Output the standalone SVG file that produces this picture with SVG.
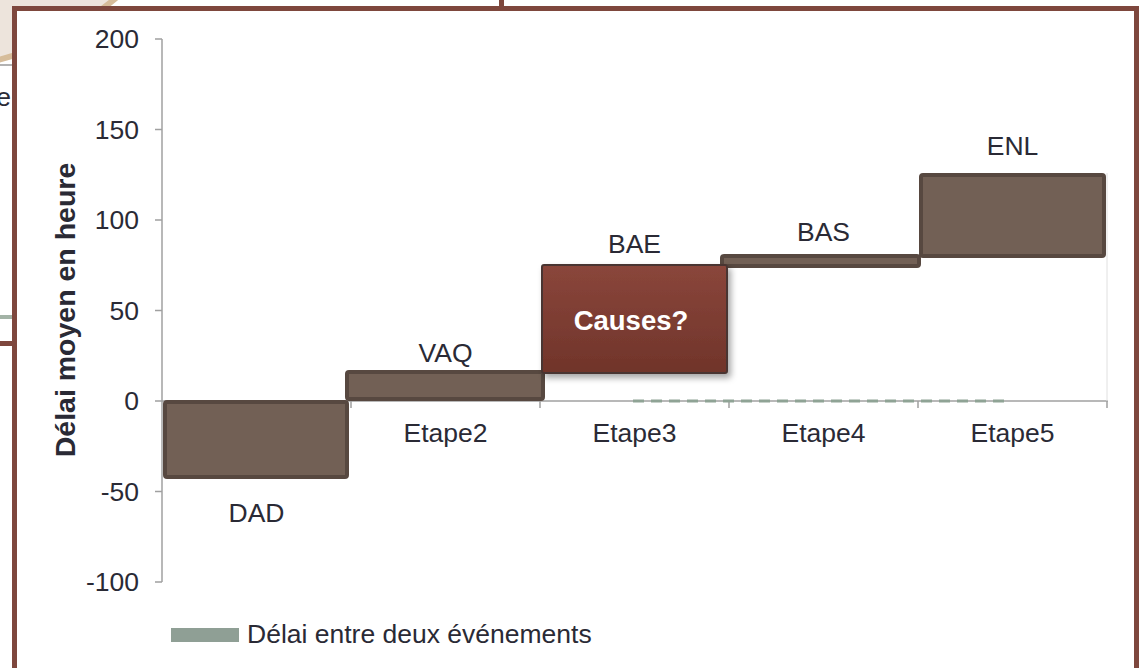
<svg xmlns="http://www.w3.org/2000/svg" width="1139" height="668" viewBox="0 0 1139 668">
<style>
text{font-family:"Liberation Sans",Arial,sans-serif;fill:#2a2a35;font-size:26.5px}
.tick{text-anchor:end}
.mid{text-anchor:middle}
.bar{fill:#726055;stroke:#574840;stroke-width:4}
.axis{stroke:#a0a0a0;stroke-width:1.5;fill:none}
</style>
<defs>
<linearGradient id="cg" x1="0" y1="0" x2="0" y2="1">
<stop offset="0" stop-color="#8a463b"/>
<stop offset="1" stop-color="#70342a"/>
</linearGradient>
<filter id="sh" x="-10%" y="-10%" width="130%" height="140%">
<feDropShadow dx="3" dy="4" stdDeviation="3" flood-color="#000" flood-opacity="0.35"/>
</filter>
</defs>
<rect width="1139" height="668" fill="#ffffff"/>
<g id="background">
<path d="M0,0 L116,0 Q60,45 0,60 Z" fill="#ede4dc"/>
<path d="M116,-2 Q60,45 -2,60" fill="none" stroke="#d6bc9a" stroke-width="6"/>
<line x1="0" y1="65" x2="14" y2="65" stroke="#999" stroke-width="1.5"/>
<text x="11" y="106" class="tick">e</text>
<line x1="0" y1="317" x2="14" y2="317" stroke="#a3b3a6" stroke-width="4"/>
<line x1="0" y1="343.5" x2="14" y2="343.5" stroke="#7e473d" stroke-width="5"/>
<line x1="501.5" y1="0" x2="501.5" y2="10" stroke="#7e473d" stroke-width="5"/>
</g>
<g id="frame">
<rect x="14.5" y="8.5" width="1122" height="700" fill="#ffffff" stroke="#7e473d" stroke-width="5"/>
</g>
<g id="axes">
<line class="axis" x1="162" y1="39" x2="162" y2="582"/>
<path class="axis" d="M155,39H162M155,129.5H162M155,220H162M155,310.5H162M155,401H162M155,491.5H162M155,582H162"/>
<line class="axis" x1="162" y1="401" x2="1108" y2="401"/>
<path class="axis" d="M351,401V408M540,401V408M729,401V408M918,401V408M1107,401V408"/>
<line x1="1107" y1="173" x2="1107" y2="401" stroke="#e0e0e0" stroke-width="1"/>
<text class="tick" x="139" y="48">200</text>
<text class="tick" x="139" y="138.5">150</text>
<text class="tick" x="139" y="229">100</text>
<text class="tick" x="139" y="319.5">50</text>
<text class="tick" x="139" y="410">0</text>
<text class="tick" x="139" y="500.5">-50</text>
<text class="tick" x="139" y="591">-100</text>
<text class="mid" x="445.5" y="442">Etape2</text>
<text class="mid" x="634.5" y="442">Etape3</text>
<text class="mid" x="823.5" y="442">Etape4</text>
<text class="mid" x="1012.5" y="442">Etape5</text>
<text class="mid" transform="translate(75,310) rotate(-90)" font-weight="bold" style="font-size:28.5px">Délai moyen en heure</text>
</g>
<g id="connectors">
<line x1="633" y1="401" x2="1005" y2="401" stroke="#8fa395" stroke-width="3" stroke-dasharray="11 7"/>
</g>
<g id="DAD">
<rect class="bar" x="165" y="402" width="182" height="75" rx="2"/>
<text class="mid" x="256.5" y="522">DAD</text>
</g>
<g id="VAQ">
<rect class="bar" x="347" y="372" width="196" height="27" rx="2"/>
<text class="mid" x="445.5" y="362">VAQ</text>
</g>
<g id="BAS">
<rect class="bar" x="722" y="256" width="197" height="10" rx="2"/>
<text class="mid" x="823.5" y="241">BAS</text>
</g>
<g id="ENL">
<rect class="bar" x="921" y="175" width="183" height="81" rx="2"/>
<text class="mid" x="1012.5" y="155">ENL</text>
</g>
<g id="BAE">
<rect x="542" y="265" width="185" height="108" rx="2" fill="url(#cg)" stroke="#4a3530" stroke-width="2" filter="url(#sh)"/>
<text class="mid" x="634.5" y="253">BAE</text>
<text class="mid" x="631" y="330" font-weight="bold" style="fill:#ffffff;font-size:27.5px">Causes?</text>
</g>
<g id="legend">
<rect x="171" y="628" width="68" height="14" fill="#8f9f95"/>
<text x="247" y="643">Délai entre deux événements</text>
</g>
</svg>
